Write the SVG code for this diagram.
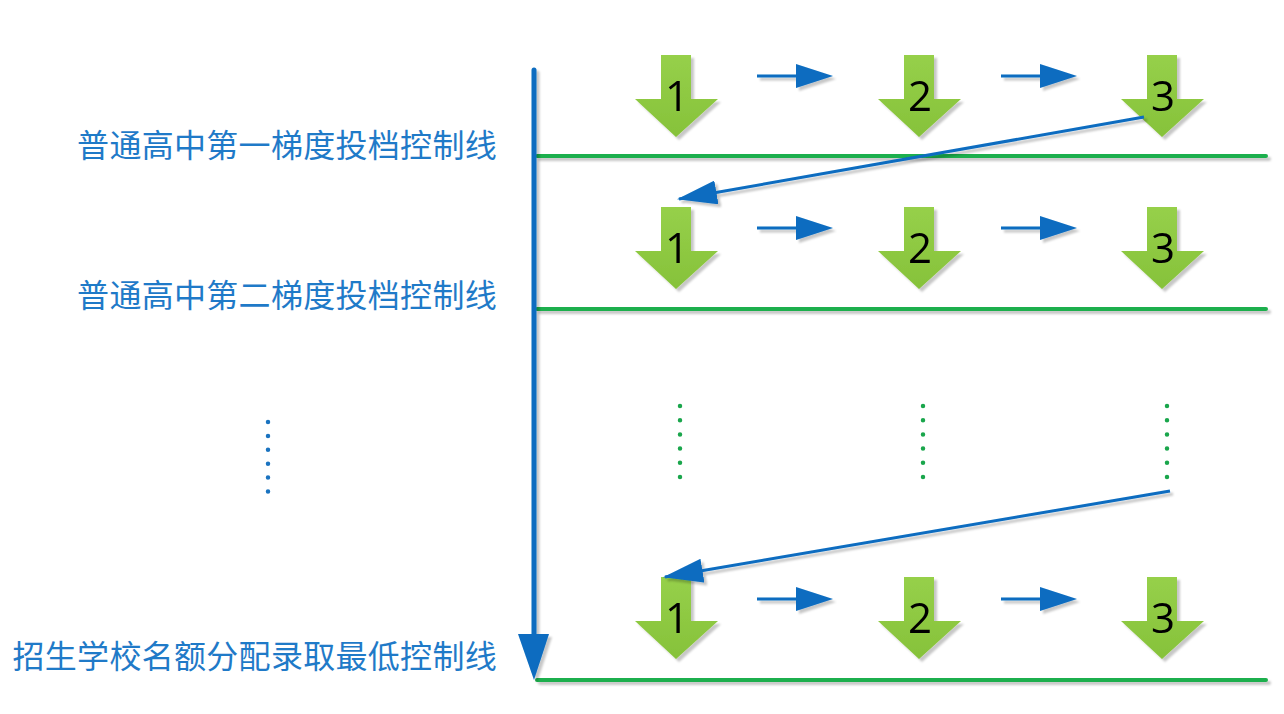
<svg xmlns="http://www.w3.org/2000/svg" width="1284" height="714" viewBox="0 0 1284 714">
<style>
.lbl{font-family:"Noto Sans CJK SC","Liberation Sans",sans-serif;font-size:32px;letter-spacing:0.3px;fill:#1f7ac8;text-anchor:end}
.num{font-family:"Open Sans","Liberation Sans",sans-serif;font-size:42px;fill:#000;text-anchor:middle}
.gl{stroke:#1daf4e;stroke-width:4;stroke-linecap:round;fill:none}
.bl{stroke:#0a6cc0;fill:none}
.gd{stroke:#1aa64c;stroke-width:4.5;stroke-linecap:round;stroke-dasharray:0 14.2;fill:none}
.bd{stroke:#1a73c0;stroke-width:4.5;stroke-linecap:round;stroke-dasharray:0 13.9;fill:none}
</style>
<defs>
<filter id="sh" x="-20%" y="-20%" width="150%" height="150%">
<feDropShadow dx="3" dy="3" stdDeviation="1.2" flood-color="#000" flood-opacity="0.22"/>
</filter>
<path id="down" d="M-16,0 H14 V44 H41 L-1,82 L-42,44 H-16 Z"/>
<marker id="ahBig" viewBox="0 0 40 24" preserveAspectRatio="none" refX="38" refY="12" markerWidth="40" markerHeight="24" markerUnits="userSpaceOnUse" orient="auto">
<path d="M0,0 L40,12 L0,24 Z" fill="#0a6cc0"/>
</marker>
<linearGradient id="gg" x1="0" y1="0" x2="0" y2="1">
<stop offset="0" stop-color="#96d04a"/>
<stop offset="1" stop-color="#86c23a"/>
</linearGradient>
</defs>
<g id="labels">
<text class="lbl" x="497" y="157">普通高中第一梯度投档控制线</text>
<text class="lbl" x="497" y="307">普通高中第二梯度投档控制线</text>
<text class="lbl" x="497" y="668">招生学校名额分配录取最低控制线</text>
</g>
<g id="lines" filter="url(#sh)">
<line class="gl" x1="537" y1="156" x2="1266" y2="156"/>
<line class="gl" x1="537" y1="309" x2="1266" y2="309"/>
<line class="gl" x1="537" y1="680" x2="1266" y2="680"/>
</g>
<g id="axis" filter="url(#sh)">
<line class="bl" x1="534" y1="70" x2="534" y2="640" stroke-width="5" stroke-linecap="round"/>
<path d="M518,634 L549,634 L534,680 Z" fill="#0a6cc0"/>
</g>
<g id="dots">
<line class="bd" x1="268" y1="422" x2="268" y2="492.5"/>
<line class="gd" x1="680" y1="406" x2="680" y2="478"/>
<line class="gd" x1="923" y1="406" x2="923" y2="478"/>
<line class="gd" x1="1167" y1="406" x2="1167" y2="478"/>
</g>
<g id="row1">
<g id="r1n1" filter="url(#sh)"><use href="#down" x="677" y="55" fill="url(#gg)"/><text class="num" x="677" y="111">1</text></g>
<g id="r1n2" filter="url(#sh)"><use href="#down" x="920" y="55" fill="url(#gg)"/><text class="num" x="920" y="111">2</text></g>
<g id="r1n3" filter="url(#sh)"><use href="#down" x="1163" y="55" fill="url(#gg)"/><text class="num" x="1163" y="111">3</text></g>
</g>
<g id="row2">
<g id="r2n1" filter="url(#sh)"><use href="#down" x="677" y="207" fill="url(#gg)"/><text class="num" x="677" y="263">1</text></g>
<g id="r2n2" filter="url(#sh)"><use href="#down" x="920" y="207" fill="url(#gg)"/><text class="num" x="920" y="263">2</text></g>
<g id="r2n3" filter="url(#sh)"><use href="#down" x="1163" y="207" fill="url(#gg)"/><text class="num" x="1163" y="263">3</text></g>
</g>
<g id="row3">
<g id="r3n1" filter="url(#sh)"><use href="#down" x="677" y="577" fill="url(#gg)"/><text class="num" x="677" y="633">1</text></g>
<g id="r3n2" filter="url(#sh)"><use href="#down" x="920" y="577" fill="url(#gg)"/><text class="num" x="920" y="633">2</text></g>
<g id="r3n3" filter="url(#sh)"><use href="#down" x="1163" y="577" fill="url(#gg)"/><text class="num" x="1163" y="633">3</text></g>
</g>
<g id="connectors" filter="url(#sh)">
<g stroke="#0a6cc0" stroke-width="3" fill="#0a6cc0">
<line x1="757" y1="76" x2="800" y2="76"/><path d="M796,64 L833,76 L796,88 Z" stroke="none"/>
<line x1="1001" y1="76" x2="1044" y2="76"/><path d="M1040,64 L1077,76 L1040,88 Z" stroke="none"/>
<line x1="757" y1="228" x2="800" y2="228"/><path d="M796,216 L833,228 L796,240 Z" stroke="none"/>
<line x1="1001" y1="228" x2="1044" y2="228"/><path d="M1040,216 L1077,228 L1040,240 Z" stroke="none"/>
<line x1="757" y1="599" x2="800" y2="599"/><path d="M796,587 L833,599 L796,611 Z" stroke="none"/>
<line x1="1001" y1="599" x2="1044" y2="599"/><path d="M1040,587 L1077,599 L1040,611 Z" stroke="none"/>
</g>
<line class="bl" x1="1144" y1="117" x2="679" y2="199" stroke-width="3" marker-end="url(#ahBig)"/>
<line class="bl" x1="1170" y1="491" x2="665" y2="577" stroke-width="3" marker-end="url(#ahBig)"/>
</g>
</svg>
